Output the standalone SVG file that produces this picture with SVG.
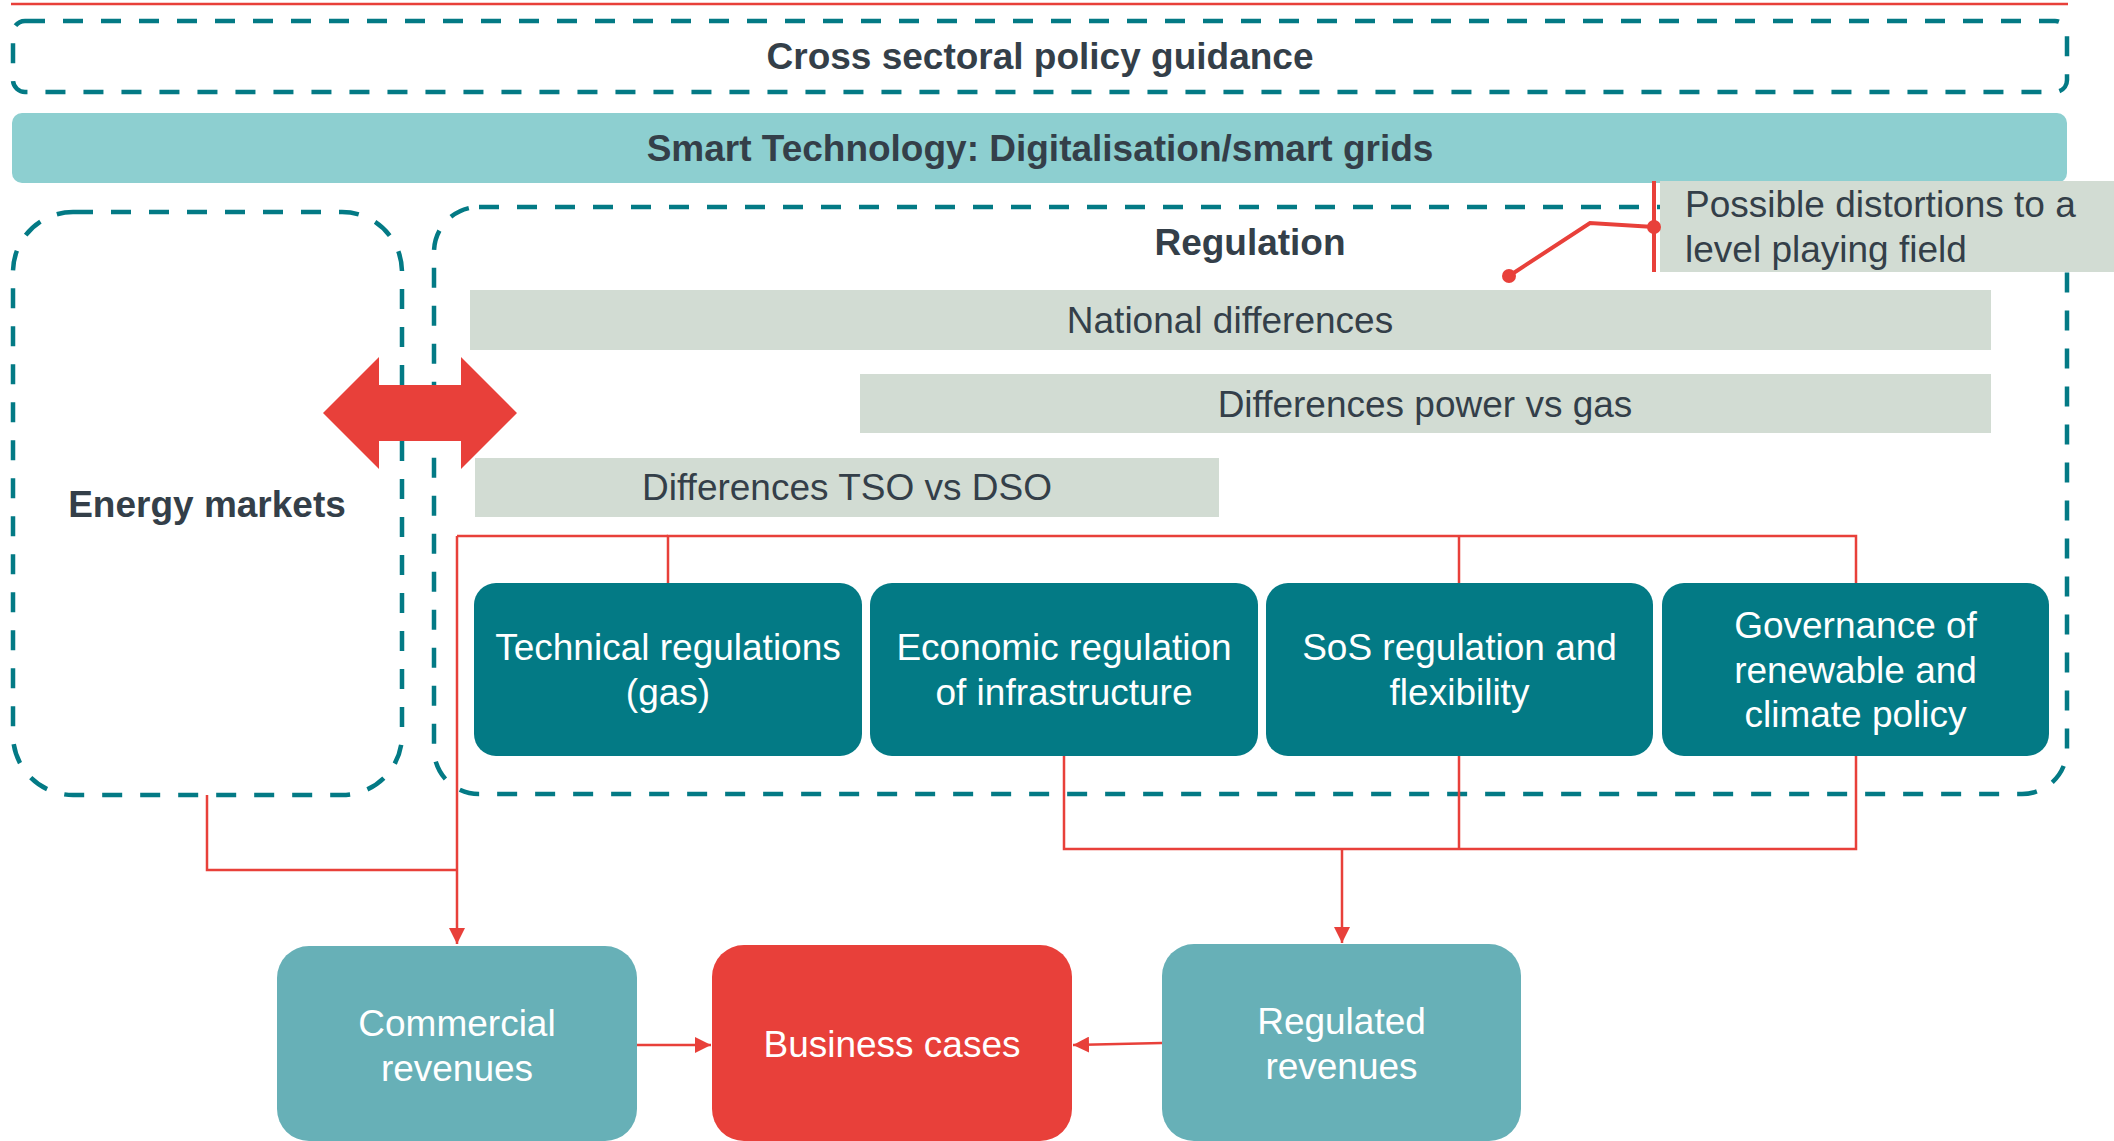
<svg xmlns="http://www.w3.org/2000/svg" width="2114" height="1141" viewBox="0 0 2114 1141">
<defs>
<style>
.dash{fill:none;stroke:#037A85;stroke-width:4.5;stroke-dasharray:20 18;}
.t{font-family:"Liberation Sans",Arial,sans-serif;font-size:37px;text-anchor:middle;}
.b{font-weight:bold;fill:#343F49;}
.d{fill:#343F49;}
.w{fill:#FFFFFF;}
.grey{fill:#D2DCD3;}
.node{fill:#037A85;}
.rev{fill:#67B0B7;}
.con{fill:none;stroke:#E8403A;stroke-width:2.5;}
</style>
<marker id="ah" viewBox="0 0 10 10" refX="10" refY="5" markerWidth="16" markerHeight="16" markerUnits="userSpaceOnUse" orient="auto">
<path d="M0,0 L10,5 L0,10 z" fill="#E8403A"/>
</marker>
</defs>
<rect width="2114" height="1141" fill="#FFFFFF"/>
<line x1="11" y1="4" x2="2068" y2="4" stroke="#E8403A" stroke-width="2.5"/>

<g id="cross-sectoral">
<rect class="dash" x="13" y="21" width="2054" height="71" rx="12"/>
<text class="t b" x="1040" y="69">Cross sectoral policy guidance</text>
</g>

<g id="smart-technology">
<rect x="12" y="113" width="2055" height="70" rx="10" fill="#8DCFD0"/>
<text class="t b" x="1040" y="161">Smart Technology: Digitalisation/smart grids</text>
</g>

<g id="energy-markets">
<rect class="dash" x="13" y="212" width="389" height="583" rx="60"/>
<text class="t b" x="207" y="517">Energy markets</text>
</g>

<g id="regulation">
<rect class="dash" x="434" y="207" width="1633" height="587" rx="45"/>
<text class="t b" x="1250" y="255">Regulation</text>
</g>

<g id="national-differences">
<rect class="grey" x="470" y="290" width="1521" height="60"/>
<text class="t d" x="1230" y="333">National differences</text>
</g>
<g id="power-vs-gas">
<rect class="grey" x="860" y="374" width="1131" height="59"/>
<text class="t d" x="1425" y="417">Differences power vs gas</text>
</g>
<g id="tso-vs-dso">
<rect class="grey" x="475" y="458" width="744" height="59"/>
<text class="t d" x="847" y="500">Differences TSO vs DSO</text>
</g>

<g id="distortions">
<rect class="grey" x="1660" y="181" width="454" height="91"/>
<text class="t d" x="1685" y="217" style="text-anchor:start">Possible distortions to a</text>
<text class="t d" x="1685" y="262" style="text-anchor:start">level playing field</text>
<line x1="1654" y1="181" x2="1654" y2="272" stroke="#E8403A" stroke-width="4"/>
<polyline points="1654,227 1590,223 1509,276" fill="none" stroke="#E8403A" stroke-width="4"/>
<circle cx="1654" cy="227" r="7" fill="#E8403A"/>
<circle cx="1509" cy="276" r="7" fill="#E8403A"/>
</g>

<g id="connectors">
<path class="con" d="M668,583 V536 H1856 V583 M1459,536 V583"/>
<path class="con" d="M457,536 H668"/>
<path class="con" d="M457,536 V944" marker-end="url(#ah)"/>
<path class="con" d="M207,795 V870 H457"/>
<path class="con" d="M1064,756 V849 H1856 V756 M1459,756 V849"/>
<path class="con" d="M1342,849 V943" marker-end="url(#ah)"/>
<path class="con" d="M637,1045 H711" marker-end="url(#ah)"/>
<path class="con" d="M1162,1043 L1073,1045" marker-end="url(#ah)"/>
</g>

<g id="technical-regulations">
<rect class="node" x="474" y="583" width="388" height="173" rx="22"/>
<text class="t w" x="668" y="660">Technical regulations</text>
<text class="t w" x="668" y="705">(gas)</text>
</g>
<g id="economic-regulation">
<rect class="node" x="870" y="583" width="388" height="173" rx="22"/>
<text class="t w" x="1064" y="660">Economic regulation</text>
<text class="t w" x="1064" y="705">of infrastructure</text>
</g>
<g id="sos-regulation">
<rect class="node" x="1266" y="583" width="387" height="173" rx="22"/>
<text class="t w" x="1459.5" y="660">SoS regulation and</text>
<text class="t w" x="1459.5" y="705">flexibility</text>
</g>
<g id="governance">
<rect class="node" x="1662" y="583" width="387" height="173" rx="22"/>
<text class="t w" x="1855.5" y="638">Governance of</text>
<text class="t w" x="1855.5" y="683">renewable and</text>
<text class="t w" x="1855.5" y="727">climate policy</text>
</g>

<g id="double-arrow">
<polygon points="323,413 379,357 379,385 461,385 461,357 517,413 461,469 461,441 379,441 379,469" fill="#E8403A"/>
</g>

<g id="commercial-revenues">
<rect class="rev" x="277" y="946" width="360" height="195" rx="32"/>
<text class="t w" x="457" y="1036">Commercial</text>
<text class="t w" x="457" y="1081">revenues</text>
</g>
<g id="business-cases">
<rect x="712" y="945" width="360" height="196" rx="32" fill="#E8403A"/>
<text class="t w" x="892" y="1057">Business cases</text>
</g>
<g id="regulated-revenues">
<rect class="rev" x="1162" y="944" width="359" height="197" rx="32"/>
<text class="t w" x="1341.5" y="1034">Regulated</text>
<text class="t w" x="1341.5" y="1079">revenues</text>
</g>
</svg>
